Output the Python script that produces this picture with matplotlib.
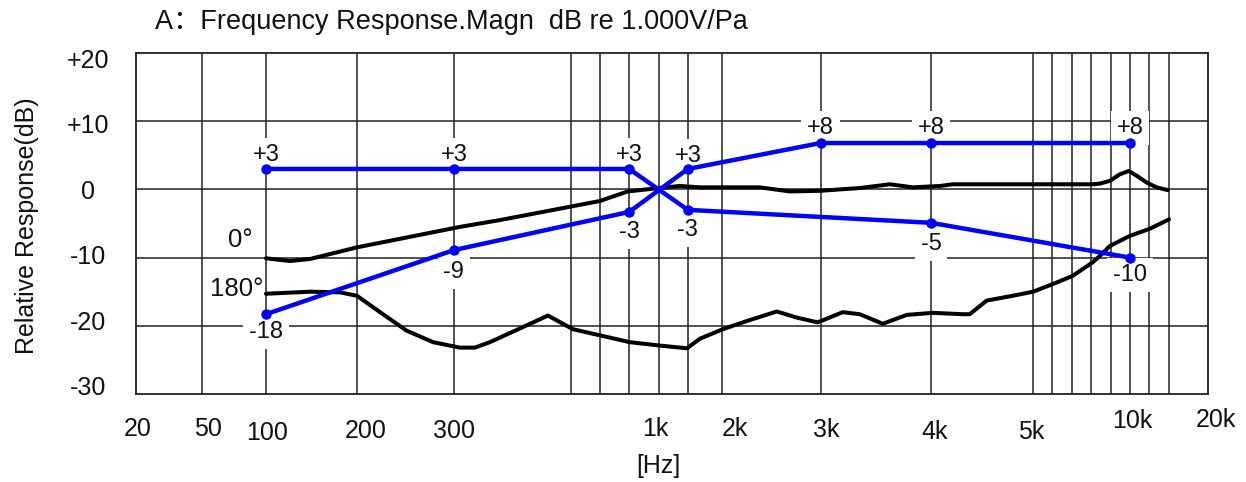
import numpy as np
import matplotlib
matplotlib.use('Agg')
import matplotlib.pyplot as plt

plt.rcParams['font.family'] = ['Liberation Sans', 'Noto Sans CJK SC', 'DejaVu Sans']

# --- data ---
# 0 deg response (Hz, dB)
f0 = [100, 120, 140, 200, 313, 418, 600, 800, 895, 1000, 1071, 1358, 2338, 2644,
      3000, 3322, 3593, 3814, 4077, 4195, 4855, 8070, 8415, 8950, 9450, 9930,
      10650, 11700, 12700, 13860]
db0 = [-10.1, -10.5, -10.2, -8.5, -5.5, -4.5, -3.1, -1.7, -0.3, 0.2, 0.5, 0.3, 0.3, -0.3,
       -0.2, 0.2, 0.75, 0.3, 0.5, 0.75, 0.75, 0.75, 0.85, 1.25, 2.2, 2.7,
       2.0, 1.0, 0.3, -0.1]

# 180 deg response (Hz, dB)
f180 = [100, 140, 176, 200, 223, 246, 275, 313, 349, 389, 493, 591, 705, 800, 902,
        1003, 1097, 1358, 2008, 2216, 2507, 2722, 2965, 3179, 3322, 3528, 3755,
        4015, 4287, 4353, 4518, 4782, 5000, 6000, 7030, 8060, 8519, 8950, 10000,
        12000, 14000]
db180 = [-15.3, -15.0, -15.1, -15.6, -18.3, -20.7, -22.4, -23.2, -23.2, -22.4, -20.2,
         -18.5, -20.5, -21.4, -22.4, -22.9, -23.3, -21.9, -20.5, -19.3, -17.9, -18.8,
         -19.5, -18.0, -18.3, -19.7, -18.4, -18.1, -18.3, -18.3, -16.3, -15.6, -15.0,
         -13.9, -12.7, -10.7, -9.5, -8.3, -6.8, -5.8, -4.4]

# tolerance limits
lim_a_f = [100, 300, 900, 1100, 4000, 10000]
lim_a_db = [3, 3, 3, -3, -4.9, -10]
lim_a_txt = ['+3', '+3', '+3', '-3', '-5', '-10']
lim_b_f = [100, 300, 900, 1100, 3000, 4000, 10000]
lim_b_db = [-18.3, -8.9, -3.3, 3, 6.8, 6.8, 6.8]
lim_b_txt = ['-18', '-9', '-3', '+3', '+8', '+8', '+8']

xtick_labels = ['20', '50', '100', '200', '300', '1k', '2k', '3k', '4k', '5k', '10k', '20k']
ytick_labels = ['+20', '+10', '0', '-10', '-20', '-30']

# --- layout of the odd frequency axis (grid freq -> position) ---
grid_f = [20, 50, 100, 200, 300, 700, 800, 900, 1000, 1100, 2000, 3000, 4000, 5000,
          6000, 7000, 8000, 9000, 10000, 12000, 14000, 20000]
grid_pos = [0, 65.7, 130, 221, 318, 435.5, 464, 493.3, 523, 552, 586, 684.7, 795.3,
            897.3, 916.7, 936, 955.7, 975, 994.3, 1013.7, 1033.3, 1072.3]
log_f = np.log10(grid_f)


def fwd(f):
    f = np.clip(np.asarray(f, dtype=float), 1e-3, None)
    return np.interp(np.log10(f), log_f, grid_pos)


def inv(p):
    return 10 ** np.interp(p, grid_pos, log_f)


W, H = 1246, 482
fig = plt.figure(figsize=(W / 100, H / 100), dpi=100)
ax = fig.add_axes([136 / W, 1 - 394 / H, (1208 - 136) / W, (394 - 53) / H])
ax.set_xscale('function', functions=(fwd, inv))
ax.set_xlim(20, 20000)
ax.set_ylim(-30, 20)
ax.set_xticks([])
ax.set_yticks([])
for s in ax.spines.values():
    s.set_color('#222222')
    s.set_linewidth(1.3)

gc = '#222222'
for f in grid_f[1:-1]:
    ax.axvline(f, color=gc, lw=1.1, zorder=1)
for y in [10, 0, -10, -20]:
    ax.axhline(y, color=gc, lw=1.1, zorder=1)

ax.plot(f0, db0, color='black', lw=2.9, zorder=4, solid_capstyle='round')
ax.plot(f180, db180, color='black', lw=2.9, zorder=4, solid_capstyle='round')

blue = '#0000ff'
ax.plot(lim_a_f, lim_a_db, color=blue, lw=3.2, marker='o', ms=6.5, zorder=5)
ax.plot(lim_b_f, lim_b_db, color=blue, lw=3.2, marker='o', ms=6.5, zorder=5)

# value labels (pixel offsets)
off_a = [14, 14, 14, -20, -21, -17]
off_b = [-18, -22, -20, 13, 15, 15, 15]
box = dict(boxstyle='square,pad=0.25', fc='white', ec='none')
for f, v, t, d in zip(lim_a_f + lim_b_f, lim_a_db + lim_b_db, lim_a_txt + lim_b_txt, off_a + off_b):
    ax.annotate(t, (f, v), xytext=(0, d), textcoords='offset pixels', ha='center',
                va='center', fontsize=17, color='#111111', bbox=box, zorder=3)

ax.annotate('0°', (f0[0], db0[0]), xytext=(-13, 18), textcoords='offset pixels',
            ha='right', va='center', fontsize=18.5, color='#111111', zorder=3)
ax.annotate('180°', (f180[0], db180[0]), xytext=(-3, 5), textcoords='offset pixels',
            ha='right', va='center', fontsize=18.5, color='#111111', zorder=3)

# tick labels
xl_px = [138, 208, 267, 366, 454, 655, 735, 826, 935, 1031, 1132, 1216]
xl_py = [429, 429, 433, 431, 431, 429, 429, 430, 432, 432, 421, 420]
for t, x, y in zip(xtick_labels, xl_px, xl_py):
    fig.text(x / W, 1 - y / H, t, ha='center', va='center', fontsize=18, color='#111111')
yl_py = np.linspace(61, 388, len(ytick_labels))
for t, y in zip(ytick_labels, yl_py):
    fig.text(88 / W, 1 - y / H, t, ha='center', va='center', fontsize=18, color='#111111')

fig.text(27 / W, 1 - 226 / H, 'Relative Response(dB)', rotation=90, ha='center',
         va='center', fontsize=18, color='#111111')
fig.text(658 / W, 1 - 466 / H, '[Hz]', ha='center', va='center', fontsize=18, color='#111111')
fig.text(155 / W, 1 - 22 / H, 'A：Frequency Response.Magn  dB re 1.000V/Pa', ha='left',
         va='center', fontsize=19.5, color='#111111')

fig.savefig('out.png', dpi=100)
